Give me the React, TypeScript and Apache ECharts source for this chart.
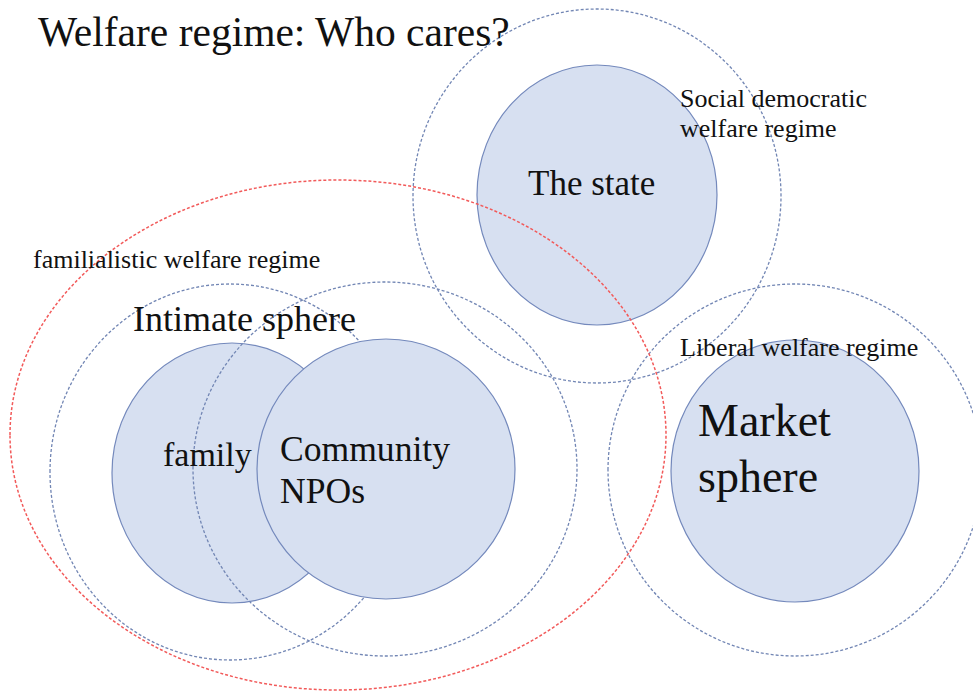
import React, { useEffect, useRef } from "react";
import * as echarts from "echarts";

// Diagram shapes (centre x, centre y, radius x, radius y) in page units
const shapeNames = ["intimateLeft", "family", "community", "intimateRight", "state", "socialDemocratic", "liberal", "market", "familialistic"];
const shapeCx = [230, 232, 386, 385, 597, 597, 795, 795, 338];
const shapeCy = [472, 473, 469, 469, 195, 196, 470, 471, 435];
const shapeRx = [180, 120, 129, 192, 120, 184, 187, 124, 328];
const shapeRy = [188, 130, 130, 187, 130, 187, 186, 131, 255];
const shapeKind = ["dashed", "filled", "filled", "dashed", "filled", "dashed", "dashed", "filled", "red"];

// Labels (left x, baseline y, font size)
const labelTexts = [
  "Social democratic",
  "welfare regime",
  "The state",
  "familialistic welfare regime",
  "Intimate sphere",
  "family",
  "Community",
  "NPOs",
  "Liberal welfare regime",
  "Market",
  "sphere",
];
const labelX = [680, 680, 528, 33, 133, 163, 280, 280, 680, 698, 698];
const labelY = [107, 137, 195, 268, 331, 466, 461, 503, 356, 436, 492];
const labelSize = [26, 26, 35, 26, 36, 34, 35.6, 35.6, 26, 46, 46];

const titleText = "Welfare regime: Who cares?";

const W = 973;
const H = 691;
const SERIF = "'Liberation Serif', 'Times New Roman', serif";

export default function App() {
  const ref = useRef<HTMLDivElement>(null);

  useEffect(() => {
    document.body.style.margin = "0";
    if (!ref.current) return;
    const chart = echarts.init(ref.current, undefined, { renderer: "svg" });

    const shapeData = shapeNames.map((n, i) => ({
      name: n,
      value: [shapeCx[i], shapeCy[i], shapeRx[i], shapeRy[i]],
    }));
    const labelData = labelTexts.map((t, i) => ({
      name: t,
      value: [labelX[i], labelY[i], labelSize[i]],
    }));

    const option: any = {
      animation: false,
      backgroundColor: "#ffffff",
      grid: { left: 0, right: 0, top: 0, bottom: 0, containLabel: false },
      xAxis: { type: "value", min: 0, max: W, show: false },
      yAxis: { type: "value", min: 0, max: H, inverse: true, show: false },
      title: {
        text: titleText,
        left: 33,
        top: 6,
        textStyle: { fontFamily: SERIF, fontSize: 41.5, fontWeight: "normal", color: "#111" },
      },
      series: [
        {
          type: "custom",
          coordinateSystem: "cartesian2d",
          clip: false,
          silent: true,
          data: shapeData,
          renderItem: (params: any, api: any) => {
            const i = params.dataIndex;
            const kind = shapeKind[i];
            const c = api.coord([api.value(0), api.value(1)]);
            const s = api.size([api.value(2), api.value(3)]);
            let style: any;
            if (kind === "filled") {
              style = { fill: "#D7E0F1", stroke: "#7489BC", lineWidth: 1.2 };
            } else if (kind === "red") {
              style = { fill: "none", stroke: "#F25A5A", lineWidth: 1.5, lineDash: [3, 2] };
            } else {
              style = { fill: "none", stroke: "#7286B4", lineWidth: 1.3, lineDash: [3, 2] };
            }
            return {
              type: "ellipse",
              shape: { cx: c[0], cy: c[1], rx: s[0], ry: s[1] },
              style,
            };
          },
          z: 1,
        },
        {
          type: "custom",
          coordinateSystem: "cartesian2d",
          clip: false,
          silent: true,
          data: labelData,
          renderItem: (params: any, api: any) => {
            const i = params.dataIndex;
            const size = api.value(2);
            const c = api.coord([api.value(0), api.value(1)]);
            return {
              type: "text",
              x: c[0],
              y: c[1] - size * 0.34,
              style: {
                text: labelTexts[i],
                fontFamily: SERIF,
                fontSize: size,
                fill: "#111",
                align: "left",
                verticalAlign: "middle",
              },
            };
          },
          z: 2,
        },
      ],
    };
    chart.setOption(option);
    return () => chart.dispose();
  }, []);

  return <div ref={ref} style={{ width: W, height: H }} />;
}
